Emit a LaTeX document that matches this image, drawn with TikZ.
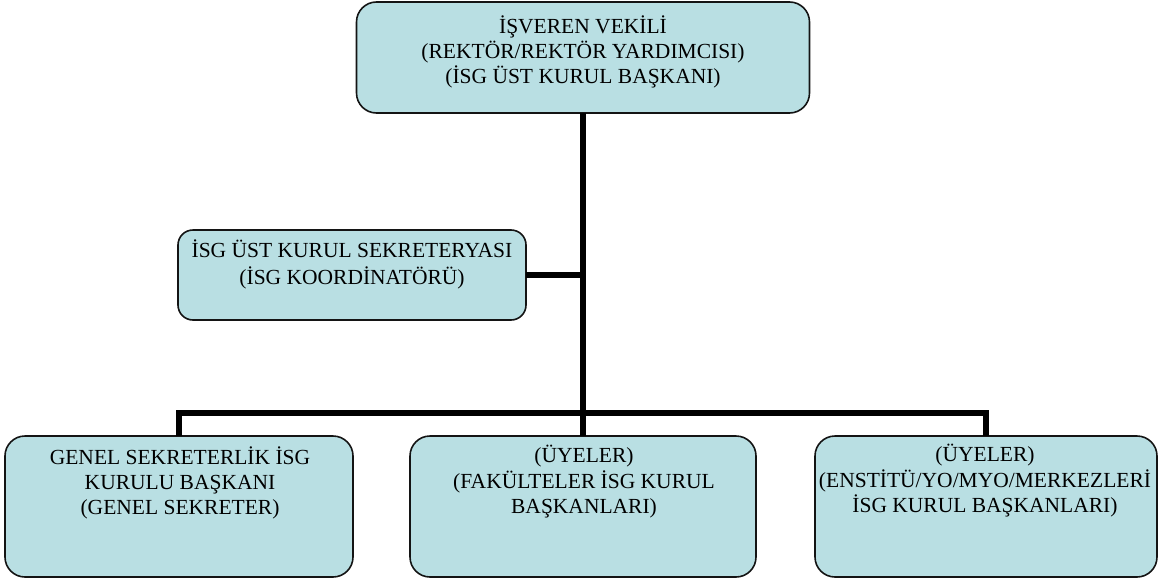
\documentclass[tikz,border=0pt]{standalone}
\usepackage{fontspec}
\setmainfont{Liberation Serif}
\definecolor{boxfill}{RGB}{185,223,227}
\definecolor{boxline}{RGB}{20,20,20}
\tikzset{
  orgbox/.style={draw=boxline, line width=1.6pt, fill=boxfill, inner sep=0pt, outer sep=0pt, rounded corners=#1},
  orgbox/.default=20pt,
  orgtext/.style={anchor=north, align=center, inner sep=0pt, font=\fontsize{21.5}{25}\selectfont},
  conn/.style={line width=6.5pt, draw=black}
}
\begin{document}
\begin{tikzpicture}[x=1pt,y=-1pt]
\useasboundingbox (0,0) rectangle (1159,581);
% boxes
\node[orgbox=20pt, minimum width=453pt, minimum height=111pt] (top) at (583,57.5) {};
\node[orgbox=15pt, minimum width=348pt, minimum height=90pt] (mid) at (352,275) {};
\node[orgbox=20pt, minimum width=348pt, minimum height=141pt] (b1) at (179,506.5) {};
\node[orgbox=20pt, minimum width=346pt, minimum height=141pt] (b2) at (583,506.5) {};
\node[orgbox=20pt, minimum width=342pt, minimum height=141pt] (b3) at (986,506.5) {};
% connectors
\coordinate (bus) at (583,413);
\draw[conn] (top.south) -- (b2.north);
\draw[conn] (mid.east) -- (mid.east -| top.south);
\draw[conn] (b1.north) |- (bus) -| (b3.north);
% texts
\node[orgtext] (t0) at (583,15.5) {\strut İŞVEREN VEKİLİ\\(REKTÖR/REKTÖR YARDIMCISI)\\(İSG ÜST KURUL BAŞKANI)};
\node[orgtext] (t1) at (352,240) {\strut İSG ÜST KURUL SEKRETERYASI\\(İSG KOORDİNATÖRÜ)};
\node[orgtext] (t2) at (180,447) {\strut GENEL SEKRETERLİK İSG\\KURULU BAŞKANI\\(GENEL SEKRETER)};
\node[orgtext] (t3) at (584,445) {\strut (ÜYELER)\\(FAKÜLTELER İSG KURUL\\BAŞKANLARI)};
\node[orgtext] (t4) at (985,444) {\strut (ÜYELER)\\(ENSTİTÜ/YO/MYO/MERKEZLERİ\\İSG KURUL BAŞKANLARI)};
\end{tikzpicture}
\end{document}
